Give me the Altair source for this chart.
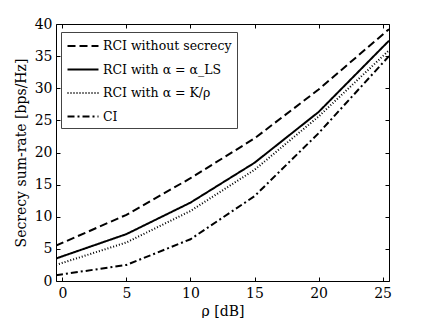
import altair as alt
import pandas as pd

# values
x_vals = [-0.5, 5, 10, 15, 20, 25.5]
no_secrecy = [5.5, 10.3, 16.0, 22.2, 29.8, 39.2]
rci_ls = [3.5, 7.3, 12.2, 18.4, 26.3, 37.4]
rci_k = [2.5, 6.0, 10.9, 17.3, 25.6, 35.9]
ci = [0.9, 2.5, 6.5, 13.2, 23.0, 35.0]

series_names = [
    "RCI without secrecy",
    "RCI with α = α_LS",
    "RCI with α = K/ρ",
    "CI",
]
series_vals = [no_secrecy, rci_ls, rci_k, ci]
dashes = [[8, 4], [1, 0], [1, 2], [7, 3, 2, 3]]
widths = [2, 2, 1.2, 2]

x_ticks = [0, 5, 10, 15, 20, 25]
y_ticks = [0, 5, 10, 15, 20, 25, 30, 35, 40]

rows = []
for name, vals in zip(series_names, series_vals):
    for i, (xv, yv) in enumerate(zip(x_vals, vals)):
        rows.append({"x": xv, "y": yv, "series": name, "order": i})
df = pd.DataFrame(rows)

W, H = 333, 257
FONT = "DejaVu Serif"

xscale = alt.Scale(domain=[-0.5, 25.5], nice=False, zero=False)
yscale = alt.Scale(domain=[0, 40], nice=False)

base = alt.Chart(df)

legend = alt.Legend(title=None, labelFont=FONT, labelFontSize=12.5, labelColor="black")

lines = base.mark_line(color="black", clip=True).encode(
    x=alt.X("x:Q", scale=xscale,
            axis=alt.Axis(orient="bottom", values=x_ticks, tickSize=0, domain=False,
                          grid=False, labelPadding=5, title="ρ [dB]",
                          titlePadding=4, titleFont=FONT, titleFontSize=14,
                          titleFontWeight="normal", labelFont=FONT, labelFontSize=14,
                          labelColor="black", titleColor="black")),
    y=alt.Y("y:Q", scale=yscale,
            axis=alt.Axis(orient="left", values=y_ticks, tickSize=0, domain=False,
                          grid=False, labelPadding=4, title="Secrecy sum-rate [bps/Hz]",
                          titlePadding=6, titleFont=FONT, titleFontSize=14,
                          titleFontWeight="normal", labelFont=FONT, labelFontSize=14,
                          labelColor="black", titleColor="black")),
    strokeDash=alt.StrokeDash("series:N",
                              scale=alt.Scale(domain=series_names, range=dashes),
                              legend=legend),
    strokeWidth=alt.StrokeWidth("series:N",
                                scale=alt.Scale(domain=series_names, range=widths),
                                legend=legend),
    order="order:Q",
)

tick_common = dict(labels=False, domain=False, grid=False, title=None,
                   tickSize=4, tickColor="black", tickWidth=1)

ticks_a = base.mark_point(opacity=0).encode(
    x=alt.X("x:Q", scale=xscale,
            axis=alt.Axis(orient="top", offset=-H, values=x_ticks, **tick_common)),
    y=alt.Y("y:Q", scale=yscale,
            axis=alt.Axis(orient="right", offset=-W, values=y_ticks, **tick_common)),
)
ticks_b = base.mark_point(opacity=0).encode(
    x=alt.X("x:Q", scale=xscale,
            axis=alt.Axis(orient="bottom", offset=-H, values=x_ticks, **tick_common)),
    y=alt.Y("y:Q", scale=yscale,
            axis=alt.Axis(orient="left", offset=-W, values=y_ticks, **tick_common)),
)

chart = alt.layer(lines, ticks_a, ticks_b).resolve_axis(
    x="independent", y="independent"
).properties(
    width=W, height=H,
    autosize=alt.AutoSizeParams(type="none"),
    padding={"left": 48, "top": 16, "right": 10, "bottom": 38},
).configure(
    font=FONT
).configure_view(
    stroke="black", strokeWidth=1
).configure_legend(
    orient="none", legendX=5, legendY=8,
    fillColor="white", strokeColor="#444", padding=5,
    symbolType="M-2,0H2", symbolSize=240, symbolOffset=8,
    symbolStrokeColor="black", labelOffset=11,
    labelFont=FONT, labelFontSize=12.5, labelColor="black",
    rowPadding=7.5, labelLimit=300,
)

chart.save("out.html", embed_options={"renderer": "svg", "actions": False})
